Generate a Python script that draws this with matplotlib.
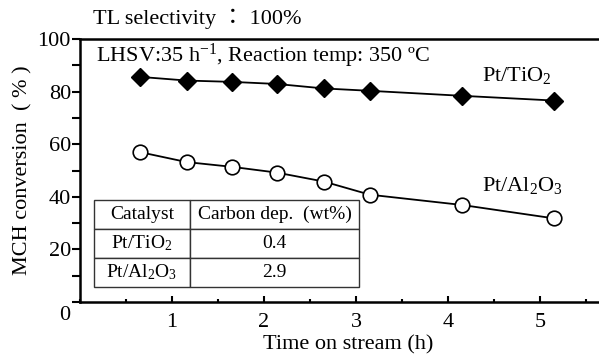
import matplotlib
matplotlib.use('Agg')
from matplotlib import pyplot as plt
from matplotlib.ticker import MultipleLocator

plt.rcParams['font.family'] = ['Liberation Serif', 'Noto Sans CJK JP']
plt.rcParams['mathtext.fontset'] = 'custom'
plt.rcParams['mathtext.rm'] = 'Liberation Serif'
plt.rcParams['mathtext.it'] = 'Liberation Serif:italic'

time_h = [0.65, 1.16, 1.65, 2.14, 2.65, 3.15, 4.15, 5.15]
conv_tio2 = [85.6, 84.2, 83.7, 82.9, 81.2, 80.3, 78.4, 76.6]
conv_al2o3 = [57.0, 53.2, 51.4, 49.2, 45.8, 40.8, 36.9, 31.8]

table_rows = [['Catalyst', 'Carbon dep.  (wt%)'],
              ['Pt/TiO$_2$', '0.4'],
              ['Pt/Al$_2$O$_3$', '2.9']]

fig = plt.figure(figsize=(5.99, 3.56), dpi=100)
ax = fig.add_axes([80 / 599, 1 - 302 / 356, 1 - 80 / 599, (302 - 39) / 356])

ax.plot(time_h, conv_tio2, color='black', lw=1.3, marker='D', ms=9,
        mfc='black', mec='black', zorder=3)
ax.plot(time_h, conv_al2o3, color='black', lw=1.3, marker='o', ms=10.5,
        mfc='white', mec='black', mew=1.2, zorder=3)

ax.set_xlim(0, 5.64)
ax.set_ylim(0, 100)
ax.xaxis.set_minor_locator(MultipleLocator(0.5))
ax.yaxis.set_minor_locator(MultipleLocator(10))
ax.set_xticks([1, 2, 3, 4, 5])
ax.set_yticks([0, 20, 40, 60, 80, 100])
ax.set_yticklabels(['', '20', '40', '60', '80', '100'])
ax.tick_params(axis='x', which='major', direction='in', length=4, width=1.5,
               labelsize=16, pad=8)
ax.tick_params(axis='x', which='minor', direction='in', length=2.5, width=1.5)
ax.tick_params(axis='y', which='both', direction='out', length=5.5, width=1.5,
               labelsize=16, pad=1)
for s in ['left', 'bottom', 'top']:
    ax.spines[s].set_linewidth(1.8)
ax.spines['right'].set_visible(False)

ax.annotate('0', xy=(0, 0), xycoords='data', xytext=(-15, -14),
            textcoords='offset pixels', ha='center', va='center', fontsize=16)

ax.set_xlabel('Time on stream (h)', fontsize=16)
ax.xaxis.set_label_coords((348 - 80) / 519, -(345 - 302) / 263)
ax.xaxis.label.set_va('center')
ax.set_ylabel('MCH conversion  ( % )', fontsize=16)
ax.yaxis.set_label_coords(-(80 - 23) / 519, 0.5)
ax.yaxis.label.set_va('center')

fig.text(93 / 599, 1 - 19 / 356, 'TL selectivity ： 100%', fontsize=16,
         ha='left', va='center')
ax.text((96 - 80) / 519, (302 - 56) / 263,
        'LHSV:35 h$^{-1}$, Reaction temp: 350 ºC', transform=ax.transAxes,
        fontsize=16, ha='left', va='center')
ax.text((482 - 80) / 519, (302 - 76) / 263, 'Pt/TiO$_2$', transform=ax.transAxes,
        fontsize=16, ha='left', va='center')
ax.text((482 - 80) / 519, (302 - 186) / 263, 'Pt/Al$_2$O$_3$', transform=ax.transAxes,
        fontsize=16, ha='left', va='center')

tbl = ax.table(cellText=table_rows, cellLoc='center',
               colWidths=[96 / 519, 169 / 519],
               bbox=[(94 - 80) / 519, (302 - 287) / 263, 265 / 519, 87 / 263])
tbl.auto_set_font_size(False)
for (r, c), cell in tbl.get_celld().items():
    cell.set_edgecolor('#333333')
    cell.set_linewidth(1.0)
    cell.set_facecolor('white')
    cell.get_text().set_fontsize(14)

fig.savefig('out.png', dpi=100)
